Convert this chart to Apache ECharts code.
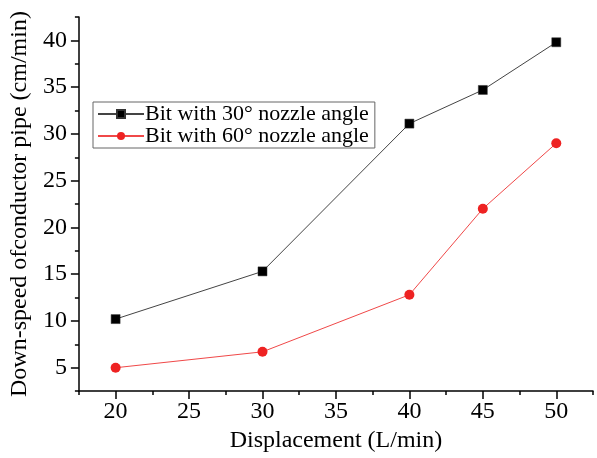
<!DOCTYPE html>
<html>
<head>
<meta charset="utf-8">
<script src="https://cdn.jsdelivr.net/npm/echarts@6/dist/echarts.min.js"></script>
<style>
html,body{margin:0;padding:0;background:#fff;}
#chart{width:597px;height:458px;}
</style>
</head>
<body>
<div id="chart"></div>
<script>
// ---- data ----
const displacement = [20, 30, 40, 45, 50];
const nozzle30 = [10.2, 15.3, 31.1, 34.7, 39.8];
const nozzle60 = [5.0, 6.7, 12.8, 22.0, 29.0];
const seriesNames = ['Bit with 30\u00B0 nozzle angle', 'Bit with 60\u00B0 nozzle angle'];
const xTicks = [20, 25, 30, 35, 40, 45, 50];
const yTicks = [5, 10, 15, 20, 25, 30, 35, 40];
const xTitle = 'Displacement (L/min)';
const yTitle = 'Down-speed ofconductor pipe (cm/min)';

const FONT = '"Liberation Serif", "Times New Roman", serif';
const chart = echarts.init(document.getElementById('chart'), null, {renderer: 'canvas'});

function pairs(xs, ys) { return xs.map((x, i) => [x, ys[i]]); }
function labelOf(list) {
  return function (v) { return list.some(t => Math.abs(t - v) < 1e-6) ? String(v) : ''; };
}

const lineBlack = {color: '#000', width: 1.5};

chart.setOption({
  backgroundColor: '#fff',
  animation: false,
  textStyle: {fontFamily: FONT, color: '#000'},
  grid: {left: 75, right: 4, top: 17, bottom: 62, containLabel: false},
  legend: {
    orient: 'vertical',
    left: 93, top: 102,
    itemWidth: 46, itemHeight: 10,
    itemGap: 0,
    padding: [1, 6, 1, 4],
    borderColor: '#666', borderWidth: 1,
    backgroundColor: '#fff',
    textStyle: {fontFamily: FONT, fontSize: 22, color: '#000', padding: [0, 0, 0, -4]},
    data: seriesNames
  },
  xAxis: [
    {
      // labels + minor ticks
      type: 'value', position: 'bottom', min: 17.5, max: 52.5, interval: 2.5,
      name: xTitle, nameLocation: 'middle', nameGap: 32,
      nameTextStyle: {fontFamily: FONT, fontSize: 24, color: '#000'},
      axisLine: {show: true, lineStyle: lineBlack},
      axisTick: {show: true, length: 4, lineStyle: lineBlack},
      axisLabel: {show: true, margin: 9, fontFamily: FONT, fontSize: 24, color: '#000', formatter: labelOf(xTicks)},
      splitLine: {show: false}
    },
    {
      // major ticks
      type: 'value', position: 'bottom', min: 17.5, max: 52.5,
      axisLine: {show: false},
      axisTick: {show: true, customValues: xTicks, length: 8, lineStyle: lineBlack},
      axisLabel: {show: false},
      splitLine: {show: false}
    }
  ],
  yAxis: [
    {
      type: 'value', position: 'left', min: 2.5, max: 42.5, interval: 2.5,
      name: yTitle, nameLocation: 'middle', nameGap: 33, nameRotate: 90,
      nameTextStyle: {fontFamily: FONT, fontSize: 24, color: '#000'},
      axisLine: {show: true, lineStyle: lineBlack},
      axisTick: {show: true, length: 4, lineStyle: lineBlack},
      axisLabel: {show: true, margin: 12, fontFamily: FONT, fontSize: 24, color: '#000', formatter: labelOf(yTicks)},
      splitLine: {show: false}
    },
    {
      type: 'value', position: 'left', min: 2.5, max: 42.5,
      axisLine: {show: false},
      axisTick: {show: true, customValues: yTicks, length: 8, lineStyle: lineBlack},
      axisLabel: {show: false},
      splitLine: {show: false}
    }
  ],
  series: [
    {
      name: seriesNames[0], type: 'line', xAxisIndex: 0, yAxisIndex: 0,
      data: pairs(displacement, nozzle30),
      symbol: 'rect', symbolSize: 9,
      itemStyle: {color: '#000', borderColor: '#333', borderWidth: 0.5},
      lineStyle: {color: '#444', width: 1},
      z: 3
    },
    {
      name: seriesNames[1], type: 'line', xAxisIndex: 0, yAxisIndex: 0,
      data: pairs(displacement, nozzle60),
      symbol: 'circle', symbolSize: 10,
      itemStyle: {color: '#ee2222'},
      lineStyle: {color: '#f04848', width: 1},
      z: 3
    }
  ]
});
</script>
</body>
</html>
